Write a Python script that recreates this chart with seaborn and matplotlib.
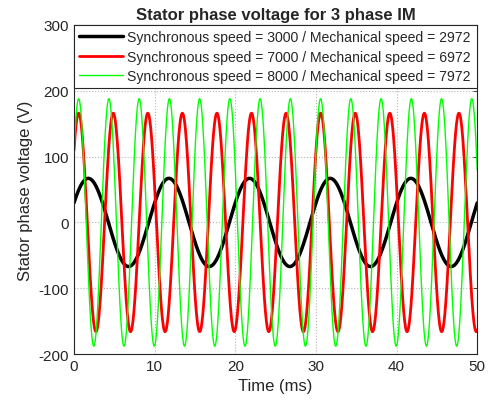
import numpy as np
import pandas as pd
import matplotlib
matplotlib.use("Agg")
import matplotlib.pyplot as plt
import seaborn as sns

# === DATA ===
labels = [
    "Synchronous speed = 3000 / Mechanical speed = 2972",
    "Synchronous speed = 7000 / Mechanical speed = 6972",
    "Synchronous speed = 8000 / Mechanical speed = 7972",
]
amplitudes = [67, 166, 188]          # peak voltage (V)
frequencies = [100.0, 233.3, 266.7]  # electrical frequency (Hz)
phases = [0.46, 0.72, 0.60]          # phase at t = 0 (rad)
colors = ["#000000", "#ff0000", "#00ff00"]
widths = [2.5, 2.0, 1.0]

t_ms = np.linspace(0, 50, 2001)

frames = []
for lab, a, f, p in zip(labels, amplitudes, frequencies, phases):
    frames.append(pd.DataFrame({
        "time": t_ms,
        "voltage": a * np.sin(2 * np.pi * f * t_ms / 1000 + p),
        "series": lab,
    }))
df = pd.concat(frames, ignore_index=True)

# === PLOT ===
sns.set_style("white")
plt.rcParams["font.family"] = ["Liberation Sans", "DejaVu Sans"]
plt.rcParams["axes.unicode_minus"] = False

fig = plt.figure(figsize=(4.89, 4.10), dpi=100)
ax = fig.add_axes([0.1513, 0.134, 0.8247, 0.8026])

for lab, col, lw in zip(labels, colors, widths):
    sns.lineplot(data=df[df["series"] == lab], x="time", y="voltage",
                 color=col, linewidth=lw, label=lab, ax=ax)

ax.set_xlim(0, 50)
ax.set_ylim(-200, 300)
ax.set_xticks([0, 10, 20, 30, 40, 50])
ax.set_yticks([-200, -100, 0, 100, 200, 300])
ax.grid(True, color="#b5b5b5", linestyle=":", linewidth=0.8)
ax.tick_params(direction="in", top=True, right=True, length=3,
               labelsize=11, colors="#262626", width=0.6)
for s in ax.spines.values():
    s.set_color("#262626")
    s.set_linewidth(0.8)

ax.set_title("Stator phase voltage for 3 phase IM", fontsize=12,
             fontweight="bold", pad=4)
ax.set_xlabel("Time (ms)", fontsize=12, color="#262626")
ax.set_ylabel("Stator phase voltage (V)", fontsize=12, color="#262626")

leg = ax.legend(loc="upper left", bbox_to_anchor=(0, 1, 1, 0), mode="expand",
                borderaxespad=0, fontsize=10.1, frameon=True, fancybox=False,
                framealpha=1, edgecolor="#262626", handlelength=3.1,
                labelspacing=0.38, handletextpad=0.3, borderpad=0.38)
leg.get_frame().set_linewidth(0.8)

fig.savefig("out.png", dpi=100)
